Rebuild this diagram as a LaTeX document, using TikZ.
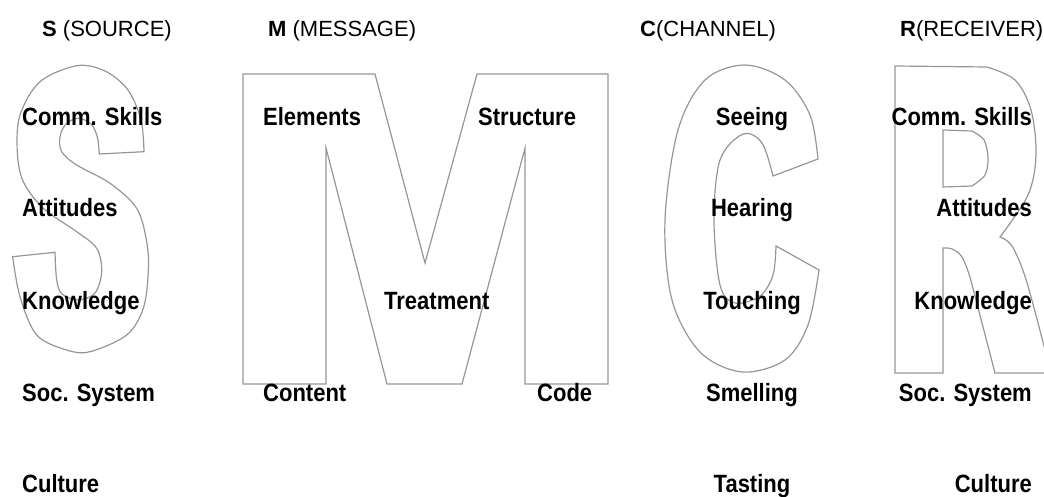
\documentclass[tikz,border=0pt]{standalone}
\usepackage{fontspec}
\setmainfont{Liberation Sans}
\newfontfamily\labelfont[FakeStretch=0.88]{Liberation Sans}
\definecolor{letterline}{RGB}{150,150,150}
\tikzset{
  letter/.style={draw=letterline, line width=1.2pt, line join=miter},
  head/.style={font=\fontsize{22}{26}\selectfont, anchor=base west, inner sep=0pt},
  item/.style={font=\labelfont\bfseries\fontsize{25}{29}\selectfont, inner sep=0pt},
}
\begin{document}
\begin{tikzpicture}[x=1pt,y=-1pt]
        \useasboundingbox (0,0) rectangle (1044,497);
        \clip (0,0) rectangle (1044,497);

        % S outline
        \draw[letter] plot[smooth, tension=0.55] coordinates {(12.7,256.7) (20,296.7) (36.7,335) (66.7,350) (90,351.7) (126.7,335) (143.3,308.3) (148.3,271.7) (146.7,241.7) (136.7,208.3) (110,183.3) (76.7,165) (61.7,151.7) (60,136.7) (66,124) (78.3,118.3) (91,124) (97.3,137) (99.3,154)}
            -- plot[smooth, tension=0.55] coordinates {(144,151.7) (141,120) (128,90) (105,71) (76.7,65.7) (40,81.7) (20,115) (17.3,151.7) (23.3,181.7) (43.3,208.3) (76.7,231.7) (96.7,248.3) (101.7,271.7) (95,293) (78.3,300) (62,294) (56.7,280) (55,252.3)}
            -- cycle;

        % M outline
        \draw[letter] (243,74) -- (375,74) -- (425,263) -- (477,74) -- (608,74) -- (608,384)
            -- (525,384) -- (525,148) -- (462,384) -- (387,384) -- (326,148) -- (326,384) -- (243,384) -- cycle;

        % C outline
        \draw[letter] plot[smooth, tension=0.55] coordinates {(818,159) (810,115) (785,80) (745,65) (705,80) (678,130) (665,220) (672,300) (700,352) (742,372) (785,360) (808,325) (819,270)}
            -- plot[smooth, tension=0.55] coordinates {(776,246) (773,275) (760,296) (735,303) (720,285) (714,220) (720,160) (743,134) (762,143) (773,176)}
            -- cycle;

        % R outline and bowl
        \draw[letter] (895,66) -- plot[smooth, tension=0.55] coordinates {(987,67) (1015,80) (1031,110) (1036,155) (1028,195) (1000,237)}
            -- plot[smooth, tension=0.5] coordinates {(1000,237) (1012,246) (1026.7,281.7) (1051,373)}
            -- (995,373) -- (970,277) -- plot[smooth, tension=0.6] coordinates {(970,277) (962,257) (952,249) (943,248)}
            -- (943,373) -- (895,373) -- cycle;
        \draw[letter] (943,130) -- plot[smooth, tension=0.55] coordinates {(972,131) (984,140) (988,158) (985,175) (972,186)} -- (943,187) -- cycle;

        % column heads
        \node[head] (srcHead) at (42,36.7) {\textbf{S} (SOURCE)};
        \node[head] (msgHead) at (268,36.7) {\textbf{M} (MESSAGE)};
        \node[head] (chnHead) at (640,36.7) {\textbf{C}(CHANNEL)};
        \node[head] (rcvHead) at (900,36.7) {\textbf{R}(RECEIVER)};

        % source
        \node[item, anchor=base west] (srcSkills) at (22,126) {Comm. Skills};
        \node[item, anchor=base west] (srcAttitudes) at (22,217) {Attitudes};
        \node[item, anchor=base west] (srcKnowledge) at (22,309) {Knowledge};
        \node[item, anchor=base west] (srcSystem) at (22,401) {Soc. System};
        \node[item, anchor=base west] (srcCulture) at (22,492) {Culture};

        % message
        \node[item, anchor=base west] (msgElements) at (263,126) {Elements};
        \node[item, anchor=base west] (msgStructure) at (478,126) {Structure};
        \node[item, anchor=base west] (msgTreatment) at (384,309) {Treatment};
        \node[item, anchor=base west] (msgContent) at (263,401) {Content};
        \node[item, anchor=base west] (msgCode) at (537,401) {Code};

        % channel
        \node[item, anchor=base] (chnSeeing) at (752,126) {Seeing};
        \node[item, anchor=base] (chnHearing) at (752,217) {Hearing};
        \node[item, anchor=base] (chnTouching) at (752,309) {Touching};
        \node[item, anchor=base] (chnSmelling) at (752,401) {Smelling};
        \node[item, anchor=base] (chnTasting) at (752,492) {Tasting};

        % receiver
        \node[item, anchor=base east] (rcvSkills) at (1032,126) {Comm. Skills};
        \node[item, anchor=base east] (rcvAttitudes) at (1032,217) {Attitudes};
        \node[item, anchor=base east] (rcvKnowledge) at (1032,309) {Knowledge};
        \node[item, anchor=base east] (rcvSystem) at (1032,401) {Soc. System};
        \node[item, anchor=base east] (rcvCulture) at (1032,492) {Culture};
    \end{tikzpicture}
\end{document}
